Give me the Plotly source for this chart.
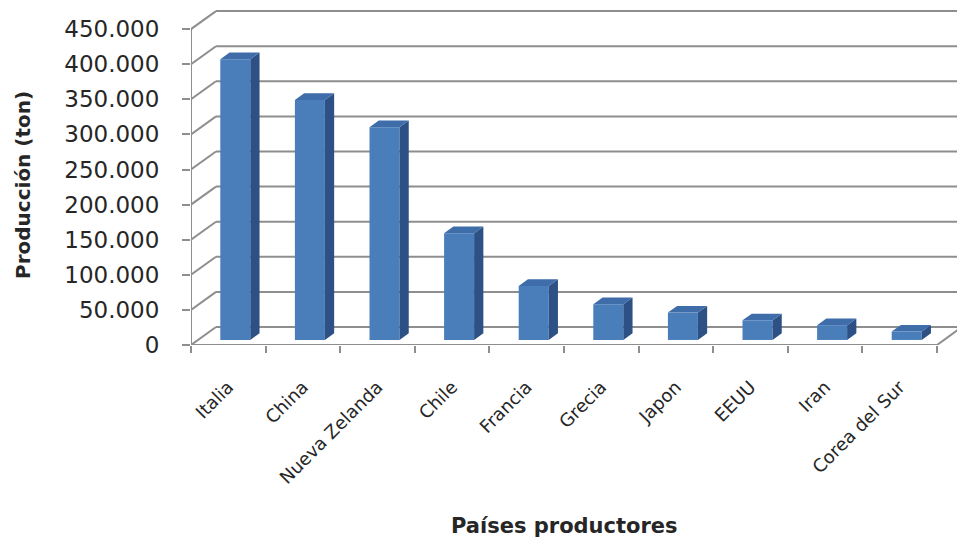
import plotly.graph_objects as go

# Kiwi production by country (tonnes)
paises = ["Italia", "China", "Nueva Zelanda", "Chile", "Francia",
          "Grecia", "Japon", "EEUU", "Iran", "Corea del Sur"]
produccion = [400000, 342000, 303000, 152000, 77000,
              51000, 39000, 28000, 21000, 12000]
y_ticks = list(range(0, 450001, 50000))
y_ticktext = [f"{v:,}".replace(",", ".") for v in y_ticks]

# Page / plot area (pixels)
W, H = 957, 544
ML, MR, MT, MB = 191, 0, 5, 199
plot_w = W - ML - MR
plot_h = H - MT - MB
CAT_PX = 74.6                 # pixels per category
UNIT_PX = 35.1 / 50000        # pixels per tonne

x_range = [-0.5, -0.5 + plot_w / CAT_PX]
y_range = [0, plot_h / UNIT_PX]

# Oblique depth of the floor/back wall (data units)
DX = 25 / CAT_PX
DY = 18 / UNIT_PX
F0, FD = 0.28, 0.37           # bar depth start and thickness (fraction of floor depth)
BW = 30 / CAT_PX              # bar front-face width

FRONT = "#4A7EBB"
SIDE = "#2D5185"
TOP = "#3E6DAA"
GRID = "#8E8E8E"
TXT = "#262626"

n = len(paises)
xc = [i + F0 * DX for i in range(n)]
base = [F0 * DY] * n

fig = go.Figure()

# Front faces
fig.add_trace(go.Bar(
    x=xc, y=produccion, base=base, width=BW,
    marker=dict(color=FRONT, line=dict(width=0)),
    hoverinfo="skip", showlegend=False,
))

# Side and top faces
sx, sy, tx, ty = [], [], [], []
for x, b, v in zip(xc, base, produccion):
    xl, xr = x - BW / 2, x + BW / 2
    top = b + v
    sx += [xr, xr + FD * DX, xr + FD * DX, xr, xr, None]
    sy += [b, b + FD * DY, top + FD * DY, top, b, None]
    tx += [xl, xl + FD * DX, xr + FD * DX, xr, xl, None]
    ty += [top, top + FD * DY, top + FD * DY, top, top, None]

fig.add_trace(go.Scatter(x=sx, y=sy, mode="lines", fill="toself",
                         fillcolor=SIDE, line=dict(width=0, color=SIDE),
                         hoverinfo="skip", showlegend=False))
fig.add_trace(go.Scatter(x=tx, y=ty, mode="lines", fill="toself",
                         fillcolor=TOP, line=dict(width=0, color=TOP),
                         hoverinfo="skip", showlegend=False))

# Back wall gridlines, side-wall diagonals and floor outline
shapes = []
line_style = dict(color=GRID, width=2)
x_left, x_right = -0.5, n - 0.5
for t in y_ticks:
    shapes.append(dict(type="line", xref="x", yref="y", layer="below",
                       x0=x_left, y0=t, x1=x_left + DX, y1=t + DY, line=line_style))
    shapes.append(dict(type="line", xref="x", yref="y", layer="below",
                       x0=x_left + DX, y0=t + DY, x1=x_range[1] + 1, y1=t + DY,
                       line=line_style))
shapes.append(dict(type="line", xref="x", yref="y", layer="below",
                   x0=x_left, y0=0, x1=x_left, y1=y_ticks[-1], line=line_style))
shapes.append(dict(type="line", xref="x", yref="y", layer="below",
                   x0=x_left, y0=0, x1=x_right, y1=0, line=line_style))
shapes.append(dict(type="line", xref="x", yref="y", layer="below",
                   x0=x_right, y0=0, x1=x_right + DX, y1=DY, line=line_style))

fig.update_layout(
    width=W, height=H,
    margin=dict(l=ML, r=MR, t=MT, b=MB),
    paper_bgcolor="white", plot_bgcolor="white",
    shapes=shapes,
    font=dict(family="DejaVu Sans", color=TXT),
    xaxis=dict(
        range=x_range, showgrid=False, zeroline=False, showline=False,
        tickmode="array", tickvals=list(range(n)), ticktext=paises,
        tickangle=-45, ticks="", ticklabelstandoff=27,
        tickfont=dict(size=18, color=TXT),
        minor=dict(tickmode="array", tickvals=[i - 0.5 for i in range(n + 1)],
                   ticks="outside", ticklen=7, tickwidth=2, tickcolor=GRID,
                   showgrid=False),
    ),
    yaxis=dict(
        range=y_range, showgrid=False, zeroline=False, showline=False,
        tickmode="array", tickvals=y_ticks, ticktext=y_ticktext,
        ticks="outside", ticklen=8, tickwidth=2, tickcolor=GRID,
        ticklabelstandoff=18, tickfont=dict(size=23, color=TXT),
    ),
    annotations=[
        dict(text="<b>Producción (ton)</b>", textangle=-90,
             xref="paper", yref="paper", x=(23 - ML) / plot_w, y=(H - MB - 185) / plot_h,
             xanchor="center", yanchor="middle", showarrow=False,
             font=dict(size=20, color=TXT)),
        dict(text="<b>Países productores</b>",
             xref="paper", yref="paper", x=(564 - ML) / plot_w, y=(H - MB - 526) / plot_h,
             xanchor="center", yanchor="middle", showarrow=False,
             font=dict(size=21, color=TXT)),
    ],
)

fig.write_html("out.html")
